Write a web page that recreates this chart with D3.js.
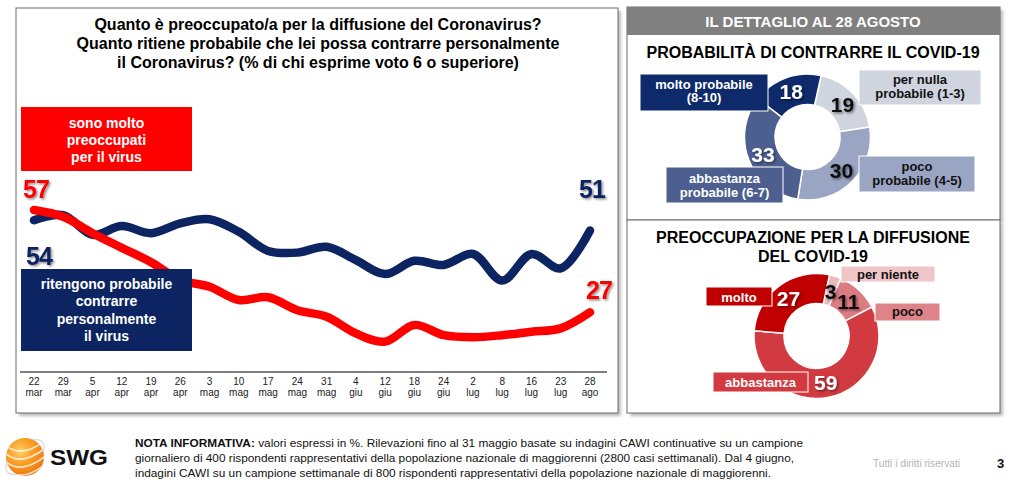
<!DOCTYPE html>
<html><head><meta charset="utf-8">
<script src="https://cdn.jsdelivr.net/npm/d3@7"></script>
<style>
body{margin:0;background:#fff;}
text{font-family:"Liberation Sans",Arial,sans-serif;}
</style>
</head><body>
<svg id="c" width="1015" height="483"></svg>
<script>
// ---------- DATA ----------
const days   = ["22","29","5","12","19","26","3","10","17","24","31","4","12","18","24","2","8","16","23","28"];
const months = ["mar","mar","apr","apr","apr","apr","mag","mag","mag","mag","mag","giu","giu","giu","giu","lug","lug","lug","lug","ago"];
const worried = [57,55,50.2,45.9,41.7,36.5,34.5,30.6,31.4,27.6,25.7,20.8,18.4,23.3,20.3,19.7,20.3,21.3,22.3,27];
const likely  = [54,55.5,49.7,52.3,50.2,53.1,54.3,50.6,45,44.5,46.2,42.3,38.2,42.1,40.9,44.1,36.3,44.1,39.9,51];

const likelyCats   = ["per nulla probabile (1-3)","poco probabile (4-5)","abbastanza probabile (6-7)","molto probabile (8-10)"];
const likelyValues = [19,30,33,18];
const worryCats    = ["per niente","poco","abbastanza","molto"];
const worryValues  = [3,11,59,27];

const svg = d3.select("#c");
const defs = svg.append("defs");

// filters
const sh = defs.append("filter").attr("id","tsh").attr("x","-20%").attr("y","-20%").attr("width","150%").attr("height","150%");
sh.append("feDropShadow").attr("dx",1.5).attr("dy",1.5).attr("stdDeviation",0.8).attr("flood-color","#000").attr("flood-opacity",0.45);
const psh = defs.append("filter").attr("id","psh").attr("x","-5%").attr("y","-5%").attr("width","110%").attr("height","110%");
psh.append("feGaussianBlur").attr("stdDeviation",1.5);

// ---------- PANELS ----------
function panel(x,y,w,h){
  svg.append("rect").attr("x",x+3).attr("y",y+3).attr("width",w).attr("height",h).attr("fill","#bdbdbd").attr("filter","url(#psh)");
  svg.append("rect").attr("x",x).attr("y",y).attr("width",w).attr("height",h).attr("fill","#fff").attr("stroke","#6b6b6b").attr("stroke-width",1);
}
panel(16,8,602,405);
panel(627,7,373,213);
panel(627,220,373,193);
svg.append("rect").attr("x",627).attr("y",7).attr("width",373).attr("height",28).attr("fill","#808080");
svg.append("text").attr("x",813).attr("y",27).attr("text-anchor","middle").attr("fill","#fff")
  .attr("font-weight","bold").attr("font-size",15).text("IL DETTAGLIO AL 28 AGOSTO");

// ---------- LEFT TITLE ----------
const titleLines = ["Quanto è preoccupato/a per la diffusione del Coronavirus?",
  "Quanto ritiene probabile che lei possa contrarre personalmente",
  "il Coronavirus? (% di chi esprime voto 6 o superiore)"];
svg.append("g").selectAll("text").data(titleLines).join("text")
  .attr("x",318).attr("y",(d,i)=>29.5+i*19).attr("text-anchor","middle")
  .attr("font-weight","bold").attr("font-size",16).attr("fill","#000").text(d=>d);

// ---------- LINE CHART ----------
const x = d3.scalePoint().domain(d3.range(days.length)).range([34,590]);
const y = d3.scaleLinear().domain([27,57]).range([312.3,210]);
const line = d3.line().x((d,i)=>x(i)).y(d=>y(d)).curve(d3.curveCatmullRom.alpha(0.5));

svg.append("path").datum(likely).attr("d",line).attr("fill","none").attr("stroke","#0c2461")
  .attr("stroke-width",8.5).attr("stroke-linecap","round").attr("stroke-linejoin","round");
svg.append("path").datum(worried).attr("d",line).attr("fill","none").attr("stroke","#ff0000")
  .attr("stroke-width",8.5).attr("stroke-linecap","round").attr("stroke-linejoin","round");

// axis
const axisY = 372;
svg.append("line").attr("x1",20).attr("x2",607).attr("y1",axisY).attr("y2",axisY).attr("stroke","#000").attr("stroke-width",1);
const tg = svg.append("g").selectAll("g").data(days).join("g").attr("transform",(d,i)=>`translate(${x(i)},0)`);
tg.append("text").attr("y",385).attr("text-anchor","middle").attr("font-size",10).attr("fill","#222").text(d=>d);
tg.append("text").attr("y",396).attr("text-anchor","middle").attr("font-size",10).attr("fill","#222").text((d,i)=>months[i]);

// legend boxes
function box(x0,y0,w,h,fill,lines,ys,color,fs){
  svg.append("rect").attr("x",x0).attr("y",y0).attr("width",w).attr("height",h).attr("fill",fill);
  svg.append("g").selectAll("text").data(lines).join("text")
    .attr("x",x0+w/2).attr("y",(d,i)=>ys[i]).attr("text-anchor","middle")
    .attr("font-weight","bold").attr("font-size",fs).attr("fill",color).text(d=>d);
}
box(21,107,171,64,"#ff0000",["sono molto","preoccupati","per il virus"],[127.5,144.5,161.5],"#fff",14);
box(21,269,171,82,"#0c2461",["ritengono probabile","contrarre","personalmente","il virus"],[288.5,306,323.5,341],"#fff",14);

// end labels
const n = worried.length-1;
function endLabel(v,xx,yy,col){
  svg.append("text").attr("x",xx).attr("y",yy).attr("font-size",25).attr("font-weight","bold")
    .attr("letter-spacing",-1).attr("fill",col).attr("filter","url(#tsh)").text(d3.format("d")(v));
}
endLabel(worried[0], x(0)-11, y(worried[0])-12, "#ff0000");
endLabel(likely[0], x(0)-8, y(likely[0])+45, "#0c2461");
endLabel(likely[n], x(n)-11, y(likely[n])-32, "#0c2461");
endLabel(worried[n], x(n)-4, y(worried[n])-13, "#ff0000");

// ---------- DONUTS ----------
function donut(cx,cy,R,r0,startDeg,values,colors,numColors,labelR){
  const a0 = startDeg*Math.PI/180;
  const pie = d3.pie().sort(null).startAngle(a0).endAngle(a0+2*Math.PI);
  const arcs = pie(values);
  const arc = d3.arc().innerRadius(r0).outerRadius(R);
  const lab = d3.arc().innerRadius(labelR).outerRadius(labelR);
  const g = svg.append("g").attr("transform",`translate(${cx},${cy})`);
  g.selectAll("path").data(arcs).join("path").attr("d",arc).attr("fill",(d,i)=>colors[i])
    .attr("stroke","#fff").attr("stroke-width",1.5);
  return {arcs, lab, cx, cy, numColors};
}
function donutLabels(d){
  svg.append("g").attr("transform",`translate(${d.cx},${d.cy})`)
    .selectAll("text").data(d.arcs).join("text")
    .attr("transform",a=>`translate(${d.lab.centroid(a)})`).attr("dy","0.36em")
    .attr("text-anchor","middle").attr("font-size",21).attr("font-weight","bold")
    .attr("fill",(a,i)=>d.numColors[i]).attr("filter","url(#tsh)").text(a=>a.value);
}
function lbox(x0,y0,w,h,fill,lines,ys,color){
  svg.append("rect").attr("x",x0).attr("y",y0).attr("width",w).attr("height",h).attr("fill",fill)
    .attr("stroke","#fff").attr("stroke-width",1);
  svg.append("g").selectAll("text").data(lines).join("text")
    .attr("x",x0+w/2).attr("y",(d,i)=>ys[i]).attr("text-anchor","middle")
    .attr("font-weight","bold").attr("font-size",13).attr("fill",color).text(d=>d);
}

svg.append("text").attr("x",813).attr("y",57.5).attr("text-anchor","middle").attr("font-weight","bold")
  .attr("font-size",16).attr("fill","#000").text("PROBABILITÀ DI CONTRARRE IL COVID-19");
const likelyColors = ["#d0d4df","#99a5c3","#4c5f8f","#0e2a6b"];
const d1 = donut(807.5,137,63,32.5,12.5,likelyValues,likelyColors,["#111","#111","#fff","#fff"],48);
lbox(640,74,128,37,likelyColors[3],["molto probabile","(8-10)"],[88.5,102],"#fff");
lbox(859,70,122,35,likelyColors[0],["per nulla","probabile (1-3)"],[84,97.5],"#111");
lbox(859,156,116,36,likelyColors[1],["poco","probabile (4-5)"],[170.5,184.5],"#111");
lbox(666,167,117,36,likelyColors[2],["abbastanza","probabile (6-7)"],[182.5,196.5],"#fff");
donutLabels(d1);

svg.append("g").selectAll("text").data(["PREOCCUPAZIONE PER LA DIFFUSIONE","DEL COVID-19"]).join("text")
  .attr("x",813).attr("y",(d,i)=>242.5+i*19).attr("text-anchor","middle").attr("font-weight","bold")
  .attr("font-size",16).attr("fill","#000").text(d=>d);
const worryColors = ["#ebb8bc","#db7c82","#d03a40","#c00000"];
const d2 = donut(816.5,336,62.5,32.5,12,worryValues,worryColors,["#111","#111","#fff","#fff"],47);
lbox(706,287,66,19,worryColors[3],["molto"],[301.5],"#fff");
lbox(841,266,94,16,"#f0c5c8",["per niente"],[279],"#111");
lbox(875,303,65,18,"#de8489",["poco"],[316],"#111");
lbox(713,372,95,20,worryColors[2],["abbastanza"],[386.5],"#fff");
donutLabels(d2);

// ---------- FOOTER ----------
const orb = defs.append("radialGradient").attr("id","orb").attr("cx","38%").attr("cy","35%").attr("r","70%");
orb.append("stop").attr("offset","0%").attr("stop-color","#ffcf6a");
orb.append("stop").attr("offset","45%").attr("stop-color","#f9a127");
orb.append("stop").attr("offset","100%").attr("stop-color","#ee7410");
defs.append("clipPath").attr("id","orbclip").append("circle").attr("cx",25).attr("cy",457).attr("r",19);
svg.append("ellipse").attr("cx",25).attr("cy",457).attr("rx",23).attr("ry",12)
  .attr("transform","rotate(-40,25,457)").attr("fill","none").attr("stroke","#d8d8d8").attr("stroke-width",1.2);
svg.append("circle").attr("cx",25).attr("cy",457).attr("r",19).attr("fill","url(#orb)");
const stripes = svg.append("g").attr("clip-path","url(#orbclip)");
[[-10,1.6],[-2,1.8],[6,1.8],[14,1.6]].forEach(([o,w])=>{
  stripes.append("path").attr("d",`M ${2} ${452+o} Q ${20} ${472+o} ${48} ${448+o}`)
    .attr("fill","none").attr("stroke","#fff").attr("stroke-opacity",0.75).attr("stroke-width",w);
});
svg.append("text").attr("x",50).attr("y",465).attr("font-size",22).attr("font-weight","bold")
  .attr("fill","#111").attr("textLength",58).attr("lengthAdjust","spacingAndGlyphs").text("SWG");

const note = svg.append("g").attr("font-size",11.5).attr("fill","#111");
const l1 = note.append("text").attr("x",135).attr("y",446.5).attr("textLength",668).attr("lengthAdjust","spacingAndGlyphs");
l1.append("tspan").attr("font-weight","bold").text("NOTA INFORMATIVA:");
l1.append("tspan").text(" valori espressi in %. Rilevazioni fino al 31 maggio basate su indagini CAWI continuative su un campione");
note.append("text").attr("x",135).attr("y",461.5).attr("textLength",659).attr("lengthAdjust","spacingAndGlyphs")
  .text("giornaliero di 400 rispondenti rappresentativi della popolazione nazionale di maggiorenni (2800 casi settimanali). Dal 4 giugno,");
note.append("text").attr("x",135).attr("y",476.5).attr("textLength",636).attr("lengthAdjust","spacingAndGlyphs")
  .text("indagini CAWI su un campione settimanale di 800 rispondenti rappresentativi della popolazione nazionale di maggiorenni.");

svg.append("text").attr("x",873).attr("y",467).attr("font-size",11.5).attr("fill","#b5b5b5")
  .attr("textLength",87).attr("lengthAdjust","spacingAndGlyphs").text("Tutti i diritti riservati");
svg.append("text").attr("x",997).attr("y",468).attr("font-size",13).attr("font-weight","bold").attr("fill","#111").text("3");
</script>
</body></html>
